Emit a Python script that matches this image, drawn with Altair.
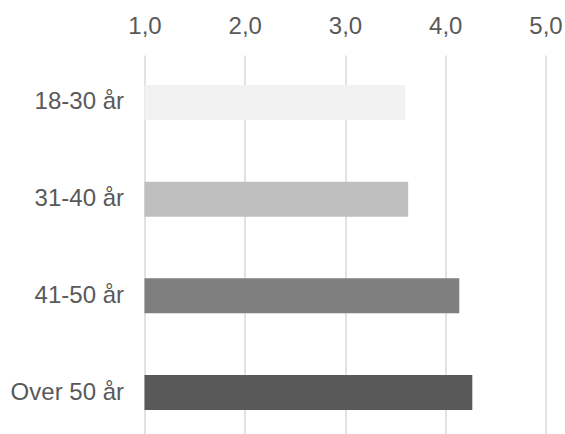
import altair as alt
import pandas as pd

categories = ["18-30 år", "31-40 år", "41-50 år", "Over 50 år"]
values = [3.60, 3.63, 4.14, 4.27]
colors = ["#f2f2f2", "#bfbfbf", "#7f7f7f", "#595959"]

df = pd.DataFrame({"cat": categories, "val": values})

FONT = "Liberation Sans"

chart = alt.Chart(df).mark_bar().encode(
    y=alt.Y("cat:N", sort=categories, title=None,
            scale=alt.Scale(paddingInner=0.638, paddingOuter=0.279, align=0.556),
            axis=alt.Axis(domain=False, ticks=False, labelPadding=21,
                          labelFontSize=24, labelColor="#595959", labelFont=FONT)),
    x=alt.X("val:Q", title=None,
            scale=alt.Scale(domain=[1, 5], zero=False, nice=False),
            axis=alt.Axis(orient="top", values=[1, 2, 3, 4, 5],
                          labelExpr="replace(format(datum.value, '.1f'), '.', ',')",
                          labelFlush=False,
                          domain=False, ticks=False, labelPadding=17,
                          labelFontSize=24, labelColor="#595959", labelFont=FONT,
                          grid=True, gridColor="#d9d9d9", gridWidth=1.5)),
    x2=alt.datum(1),
    color=alt.Color("cat:N", sort=categories, legend=None,
                    scale=alt.Scale(domain=categories, range=colors)),
).properties(
    width=401, height=379,
    padding={"left": 144.5, "top": 55, "right": 19.5, "bottom": 0},
    autosize=alt.AutoSizeParams(type="none"),
    background="white",
).configure_view(stroke=None)

chart.save("out.html", embed_options={"renderer": "svg", "actions": False})
